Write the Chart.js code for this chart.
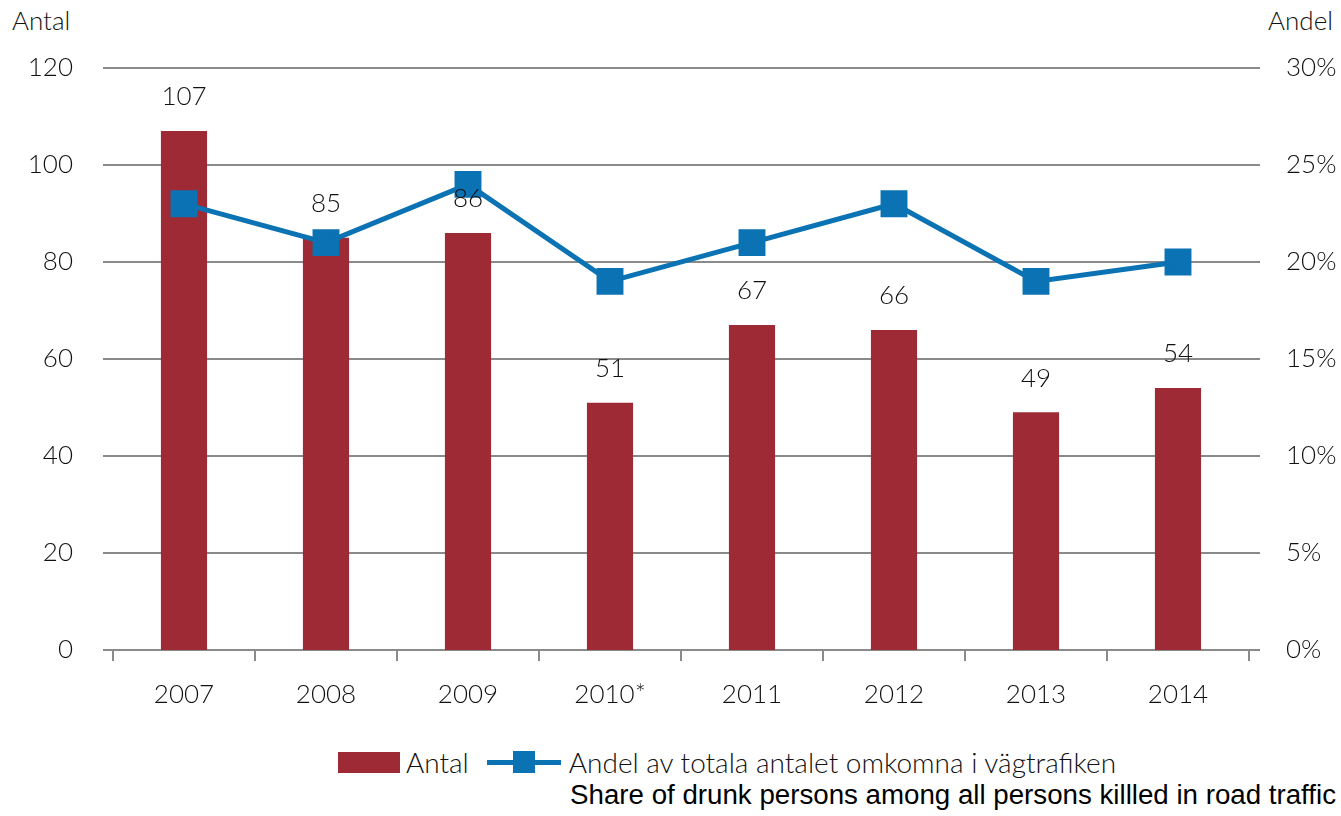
<!DOCTYPE html>
<html>
<head>
<meta charset="utf-8">
<script src="https://cdn.jsdelivr.net/npm/chart.js@4"></script>
<style>
  body { margin: 0; background: #fff; font-family: Lato, sans-serif; font-weight: 300; color: #111; }
  #wrap { position: relative; width: 1341px; height: 816px; }
  #chart-box { position: absolute; left: 0; top: 0; width: 1341px; height: 730px; }
  .axis-title { position: absolute; top: 4px; font-size: 26px; }
  #legend { position: absolute; top: 745px; left: 338px; display: flex; align-items: center; font-size: 28px; }
  .swatch-bar { width: 62px; height: 21px; background: #9d2a35; margin-right: 6px; }
  .swatch-line { position: relative; width: 74px; height: 24px; margin: 0 8px 0 18px; }
  .swatch-line:before { content: ""; position: absolute; left: 0; right: 0; top: 10px; height: 5px; background: #0b72b3; }
  .swatch-line:after { content: ""; position: absolute; left: 26px; top: 1px; width: 22px; height: 22px; background: #0b72b3; }
  #note { position: absolute; top: 779px; right: 5px; font-family: "Liberation Sans", Arial, sans-serif; font-weight: 400; font-size: 27.7px; color: #000; }
</style>
</head>
<body>
<div id="wrap">
  <div class="axis-title" style="left:12px">Antal</div>
  <div class="axis-title" style="right:8px">Andel</div>
  <div id="chart-box"><canvas id="drunk-chart"></canvas></div>
  <div id="legend">
    <div class="swatch-bar"></div><span>Antal</span>
    <div class="swatch-line"></div><span>Andel av totala antalet omkomna i vägtrafiken</span>
  </div>
  <div id="note">Share of drunk persons among all persons killled in road traffic</div>
</div>
<script>
const years = ['2007', '2008', '2009', '2010*', '2011', '2012', '2013', '2014'];
const antal = [107, 85, 86, 51, 67, 66, 49, 54];
const andel = [23, 21, 24, 19, 21, 23, 19, 20];
const leftTicks = [0, 20, 40, 60, 80, 100, 120];
const rightTicks = [0, 5, 10, 15, 20, 25, 30];

const gridColor = '#8a8a8a';
const textColor = '#111';
const textFont = { family: 'Lato, sans-serif', size: 26, weight: 300 };

// gridlines run a little past both edges of the plot, like in the original
const gridPlugin = {
    id: 'grid',
    beforeDatasetsDraw(chart) {
        const c = chart.ctx;
        const y = chart.scales.y;
        c.save();
        c.strokeStyle = gridColor;
        c.lineWidth = 2;
        leftTicks.forEach(function(v) {
            const py = Math.round(y.getPixelForValue(v));
            c.beginPath();
            c.moveTo(chart.chartArea.left - 10, py);
            c.lineTo(chart.chartArea.right + 11, py);
            c.stroke();
        });
        c.restore();
    }
};

const labelPlugin = {
    id: 'barLabels',
    afterDatasetsDraw(chart) {
        const c = chart.ctx;
        const meta = chart.getDatasetMeta(0);
        c.save();
        c.fillStyle = textColor;
        c.font = '300 26px Lato, sans-serif';
        c.textAlign = 'center';
        c.textBaseline = 'middle';
        meta.data.forEach(function(bar, i) {
            c.fillText(antal[i], bar.x, bar.y - 34);
        });
        c.restore();
    }
};

const chart = new Chart(document.getElementById('drunk-chart'), {
    type: 'bar',
    data: {
        labels: years,
        datasets: [{
            label: 'Antal',
            data: antal,
            backgroundColor: '#9d2a35',
            categoryPercentage: 1,
            barPercentage: 0.325,
            yAxisID: 'y',
            order: 2
        }, {
            type: 'line',
            label: 'Andel av totala antalet omkomna i vägtrafiken',
            data: andel,
            borderColor: '#0b72b3',
            backgroundColor: '#0b72b3',
            borderWidth: 5,
            pointStyle: 'rect',
            pointRadius: 15.5,
            pointHoverRadius: 15.5,
            tension: 0,
            yAxisID: 'y1',
            order: 1
        }]
    },
    options: {
        responsive: true,
        maintainAspectRatio: false,
        animation: false,
        layout: { padding: { top: 68, left: 0, right: 0, bottom: 0 } },
        plugins: {
            legend: { display: false },
            tooltip: { enabled: false }
        },
        scales: {
            x: {
                grid: { display: true, offset: true, drawOnChartArea: false, drawTicks: true, tickLength: 11, color: gridColor, lineWidth: 2 },
                border: { display: false },
                ticks: { color: textColor, font: textFont, padding: 18 },
                afterFit(scale) { scale.height = 80; }
            },
            y: {
                position: 'left',
                min: 0,
                max: 120,
                afterBuildTicks(scale) { scale.ticks = leftTicks.map(v => ({ value: v })); },
                grid: { display: false },
                border: { display: false },
                ticks: { color: textColor, font: textFont, padding: 32 },
                afterFit(scale) { scale.width = 113; }
            },
            y1: {
                position: 'right',
                min: 0,
                max: 30,
                afterBuildTicks(scale) { scale.ticks = rightTicks.map(v => ({ value: v })); },
                grid: { display: false },
                border: { display: false },
                ticks: { color: textColor, font: textFont, padding: 29, callback: v => v + '%' },
                afterFit(scale) { scale.width = 92; }
            }
        }
    },
    plugins: [gridPlugin, labelPlugin]
});
</script>
</body>
</html>
